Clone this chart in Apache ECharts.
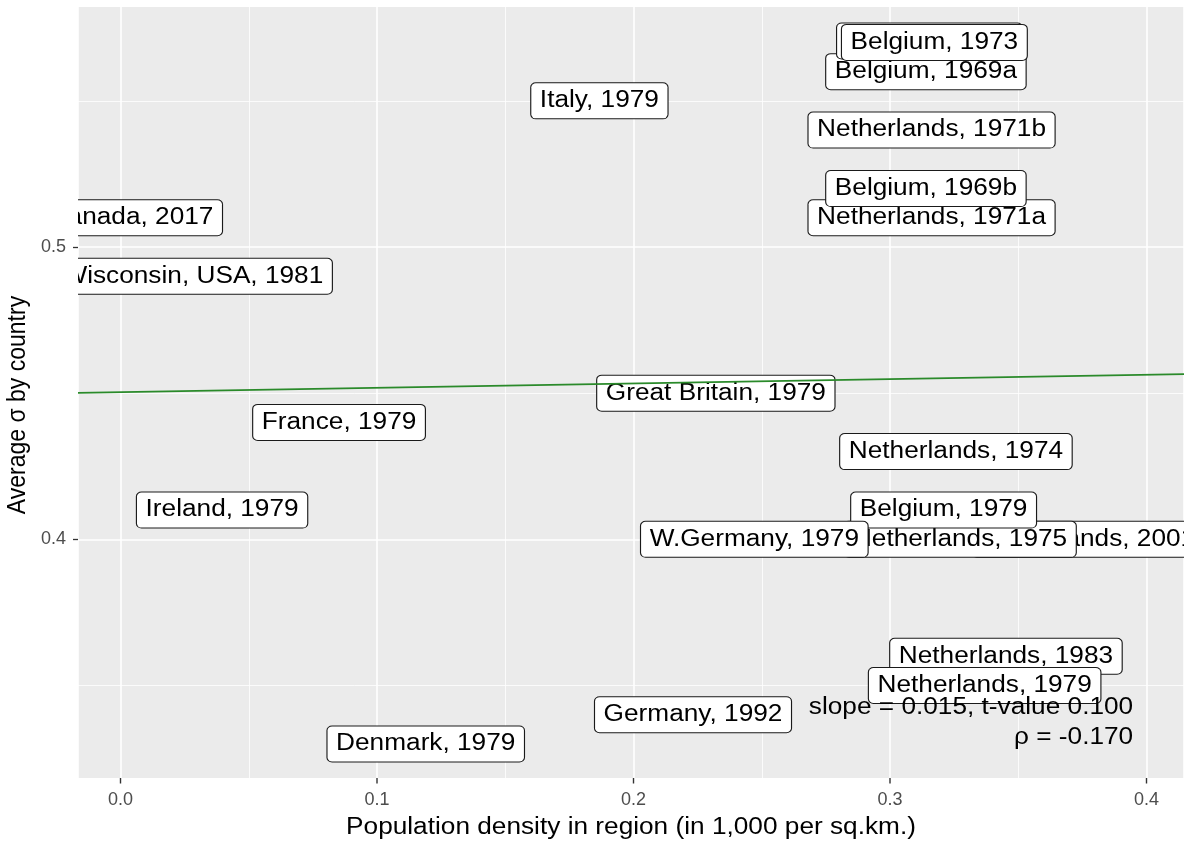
<!DOCTYPE html>
<html><head><meta charset="utf-8">
<script src="https://cdn.jsdelivr.net/npm/echarts@6/dist/echarts.min.js"></script>
<style>html,body{margin:0;padding:0;background:#fff}#c{width:1197px;height:844px}</style>
</head><body><div id="c"></div>
<script>
// ---- data ----
const labels = ["Canada, 2017","Wisconsin, USA, 1981","Italy, 1979","Belgium, 1969a","Belgium, 1971","Belgium, 1973",
  "Netherlands, 1971b","Netherlands, 1971a","Belgium, 1969b","Great Britain, 1979","France, 1979","Netherlands, 1974",
  "Ireland, 1979","Netherlands, 2001","Netherlands, 1975","Belgium, 1979","W.Germany, 1979","Netherlands, 1983",
  "Netherlands, 1979","Germany, 1992","Denmark, 1979"];
const density = [0.0041,0.0282,0.1867,0.3140,0.3154,0.3173,
  0.3162,0.3162,0.3140,0.2321,0.0852,0.3257,
  0.0396,0.3772,0.3273,0.3209,0.2471,0.3452,
  0.3369,0.2232,0.1190];
const sigma = [0.51,0.49,0.55,0.56,0.5705,0.57,
  0.54,0.51,0.52,0.45,0.44,0.43,
  0.41,0.40,0.40,0.41,0.40,0.36,
  0.35,0.34,0.33];
const trendX = [-0.01657, 0.41462];
const trendY = [0.4501, 0.4565];
const xTicks = [0, 0.1, 0.2, 0.3, 0.4];
const yTicks = [0.4, 0.5];
const xRange = [-0.01657, 0.41462];
const yRange = [0.31834, 0.58211];
const noteLines = ["slope = 0.015, t-value 0.100", "\u03c1 = -0.170"];
const noteX = [0.3948, 0.3948];
const noteY = [0.3424, 0.3323];
const xTitle = "Population density in region (in 1,000 per sq.km.)";
const yTitle = "Average \u03c3 by country";

// ---- chart ----
const FONT = '"Liberation Sans", Arial, Helvetica, sans-serif';
const STRETCH = 1.14;
const chart = echarts.init(document.getElementById('c'), null, {renderer: 'canvas'});
const labelData = density.map((x, i) => [x, sigma[i]]);
const noteData = noteX.map((x, i) => [x, noteY[i]]);
const trendData = trendX.map((x, i) => [x, trendY[i]]);
const isTick = (v, list) => list.some(t => Math.abs(t - v) < 1e-9);

const axisCommon = {
  type: 'value',
  axisLine: {show: false, onZero: false},
  axisTick: {show: true, inside: false, length: 5, lineStyle: {color: '#333333', width: 1.3}},
  axisLabel: {color: '#4D4D4D', fontSize: 18, fontFamily: FONT, formatter: v => v.toFixed(1)},
  splitLine: {show: true, lineStyle: {color: '#FFFFFF', width: 1.6}},
  minorTick: {show: false, splitNumber: 2},
  minorSplitLine: {show: true, lineStyle: {color: '#FFFFFF', width: 0.8}}
};

const titleGraphics = [
  {id: 'xt', type: 'text', x: 631, y: 828, scaleX: STRETCH, silent: true,
   style: {text: xTitle, font: '23px ' + FONT, fill: '#000', align: 'center', verticalAlign: 'middle'}},
  {id: 'yt', type: 'text', x: 18, y: 405, rotation: Math.PI / 2, scaleY: STRETCH, silent: true,
   style: {text: yTitle, font: '23px ' + FONT, fill: '#000', align: 'center', verticalAlign: 'middle'}}
];

chart.setOption({
  animation: false,
  backgroundColor: '#FFFFFF',
  grid: {left: 78, right: 13, top: 7, bottom: 66, show: true, backgroundColor: '#EBEBEB',
         borderWidth: 0, containLabel: false, outerBoundsMode: 'none'},
  xAxis: Object.assign({}, axisCommon, {
    min: xRange[0], max: xRange[1], position: 'bottom', splitNumber: 5,
    axisTick: {show: false},
    axisLabel: Object.assign({}, axisCommon.axisLabel, {margin: 13, showMinLabel: true, showMaxLabel: true,
      formatter: v => isTick(v, xTicks) ? v.toFixed(1) : ''})
  }),
  yAxis: Object.assign({}, axisCommon, {
    min: yRange[0], max: yRange[1], splitNumber: 3, position: 'left',
    axisTick: Object.assign({}, axisCommon.axisTick, {customValues: yTicks}),
    axisLabel: Object.assign({}, axisCommon.axisLabel, {customValues: yTicks, margin: 12})
  }),
  graphic: titleGraphics,
  series: [
    {
      type: 'custom', z: 2, clip: true, silent: true,
      data: labelData, encode: {x: 0, y: 1},
      renderItem: (params, api) => {
        const p = api.coord([api.value(0), api.value(1)]);
        return {
          type: 'text', x: p[0], y: p[1], scaleX: STRETCH,
          style: {
            text: labels[params.dataIndex], font: '23px ' + FONT, fill: '#000',
            align: 'center', verticalAlign: 'middle', lineHeight: 23,
            backgroundColor: '#FFFFFF', borderColor: '#1A1A1A', borderWidth: 1,
            borderRadius: 4, padding: [6, 7.5, 6, 7.5]
          }
        };
      }
    },
    {
      type: 'line', z: 3, silent: true, data: trendData, showSymbol: false, symbol: 'none',
      lineStyle: {color: '#2A8A2A', width: 1.6}
    },
    {
      type: 'custom', z: 4, silent: true,
      data: noteData, encode: {x: 0, y: 1},
      renderItem: (params, api) => {
        const p = api.coord([api.value(0), api.value(1)]);
        return {
          type: 'text', x: p[0], y: p[1], scaleX: STRETCH,
          style: {text: noteLines[params.dataIndex], font: '23px ' + FONT, fill: '#000',
                  align: 'right', verticalAlign: 'middle'}
        };
      }
    }
  ]
});

// x-axis tick marks, positioned through the chart's own x scale
const tickGraphics = xTicks.map((v, i) => {
  const p = chart.convertToPixel({gridIndex: 0}, [v, yRange[0]]);
  return {id: 'xtick' + i, type: 'rect', z: 100, silent: true,
          shape: {x: p[0] - 0.7, y: p[1], width: 1.4, height: 5.5},
          style: {fill: '#333333'}};
});
chart.setOption({graphic: titleGraphics.concat(tickGraphics)});
</script>
</body></html>
